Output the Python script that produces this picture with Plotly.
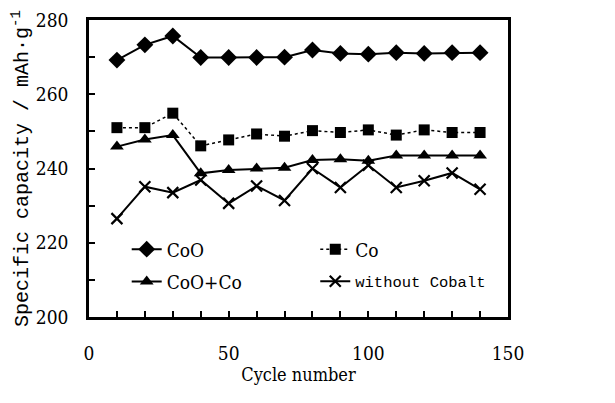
import plotly.graph_objects as go

cycles = [10, 20, 30, 40, 50, 60, 70, 80, 90, 100, 110, 120, 130, 140]
coo = [269.2, 273.3, 275.7, 269.9, 269.9, 269.9, 270.0, 271.9, 271.0, 270.8, 271.2, 271.0, 271.2, 271.2]
co = [251.0, 251.0, 254.9, 246.1, 247.7, 249.3, 248.7, 250.2, 249.7, 250.4, 249.0, 250.4, 249.7, 249.7]
coo_co = [245.9, 247.8, 249.0, 238.7, 239.6, 240.0, 240.2, 242.3, 242.5, 242.1, 243.5, 243.5, 243.5, 243.5]
without = [226.5, 235.1, 233.5, 236.9, 230.6, 235.3, 231.4, 240.0, 234.9, 240.9, 234.9, 236.7, 238.8, 234.4]

names = ["CoO", "Co", "CoO+Co", "without Cobalt"]
x_ticks = [0, 50, 100, 150]
y_ticks = [200, 220, 240, 260, 280]

SERIF = "DejaVu Serif Condensed, Liberation Serif, serif"
MONO = "Liberation Mono, DejaVu Sans Mono, monospace"

fig = go.Figure()
fig.add_trace(go.Scatter(x=cycles, y=coo, name=names[0], mode="lines+markers",
                         line=dict(color="black", width=2),
                         marker=dict(symbol="diamond", size=13, color="black"),
                         legend="legend"))
fig.add_trace(go.Scatter(x=cycles, y=co, name=names[1], mode="lines+markers",
                         line=dict(color="black", width=1.5, dash="dot"),
                         marker=dict(symbol="square", size=11, color="black"),
                         legend="legend2"))
fig.add_trace(go.Scatter(x=cycles, y=coo_co, name=names[2], mode="lines+markers",
                         line=dict(color="black", width=2),
                         marker=dict(symbol="triangle-up", size=12, color="black"),
                         legend="legend3"))
fig.add_trace(go.Scatter(x=cycles, y=without, name=names[3], mode="lines+markers",
                         line=dict(color="black", width=2),
                         marker=dict(symbol="x-thin", size=11, color="black",
                                     line=dict(color="black", width=2.2)),
                         legend="legend4"))

def leg(xp, yp, fam, size):
    return dict(x=xp, y=yp, xref="paper", yref="paper", xanchor="left", yanchor="middle",
                bgcolor="rgba(0,0,0,0)", borderwidth=0,
                font=dict(family=fam, size=size, color="black"))

# the page body has an 8px margin, so the figure is drawn 8px smaller
fig.update_layout(
    width=607, height=395,
    margin=dict(l=81, r=107, t=12, b=86),
    paper_bgcolor="white", plot_bgcolor="white",
    font=dict(family=SERIF, color="black", size=19),
    showlegend=True,
    legend=leg(0.09, 0.228, SERIF, 19),
    legend2=leg(0.54, 0.228, SERIF, 19),
    legend3=leg(0.09, 0.119, SERIF, 19),
    legend4=leg(0.54, 0.119, MONO, 15.5),
)
fig.update_xaxes(
    range=[0, 150], tickvals=x_ticks, ticks="inside", ticklen=6, tickwidth=1.5,
    tickcolor="black", minor=dict(dtick=10, ticks="inside", ticklen=6, tickcolor="black", tickwidth=1.5),
    showline=True, linecolor="black", linewidth=2.5, mirror=True, showgrid=False,
    zeroline=False, ticklabelstandoff=17, automargin=False,
    title=dict(text="Cycle number", font=dict(family=SERIF, size=18), standoff=0),
)
fig.update_yaxes(
    range=[200, 280], tickvals=y_ticks, ticks="inside", ticklen=6, tickwidth=1.5,
    tickcolor="black", minor=dict(dtick=10, ticks="inside", ticklen=6, tickcolor="black", tickwidth=1.5),
    showline=True, linecolor="black", linewidth=2.5, mirror=True, showgrid=False,
    zeroline=False, ticklabelstandoff=14, automargin=False,
    title=dict(text="Specific capacity / mAh·g<sup>-1</sup>", font=dict(family=MONO, size=20), standoff=18),
)

fig.write_html("out.html")
